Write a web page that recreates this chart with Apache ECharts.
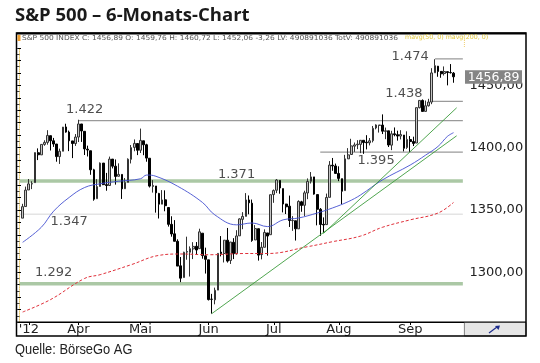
<!DOCTYPE html>
<html><head><meta charset="utf-8">
<script src="https://cdn.jsdelivr.net/npm/echarts@6/dist/echarts.min.js"></script>
<style>html,body{margin:0;padding:0;background:#fff}#c{width:540px;height:363px}</style>
</head><body><div id="c"></div>
<script>
// ---- trading days (2012) ----
const dates = [
'03-07','03-08','03-09','03-12','03-13','03-14','03-15','03-16','03-19','03-20','03-21','03-22','03-23','03-26','03-27','03-28','03-29','03-30',
'04-02','04-03','04-04','04-05','04-09','04-10','04-11','04-12','04-13','04-16','04-17','04-18','04-19','04-20','04-23','04-24','04-25','04-26','04-27','04-30',
'05-01','05-02','05-03','05-04','05-07','05-08','05-09','05-10','05-11','05-14','05-15','05-16','05-17','05-18','05-21','05-22','05-23','05-24','05-25','05-29','05-30','05-31',
'06-01','06-04','06-05','06-06','06-07','06-08','06-11','06-12','06-13','06-14','06-15','06-18','06-19','06-20','06-21','06-22','06-25','06-26','06-27','06-28','06-29',
'07-02','07-03','07-05','07-06','07-09','07-10','07-11','07-12','07-13','07-16','07-17','07-18','07-19','07-20','07-23','07-24','07-25','07-26','07-27','07-30','07-31',
'08-01','08-02','08-03','08-06','08-07','08-08','08-09','08-10','08-13','08-14','08-15','08-16','08-17','08-20','08-21','08-22','08-23','08-24','08-27','08-28','08-29','08-30','08-31',
'09-04','09-05','09-06','09-07','09-10','09-11','09-12','09-13','09-14','09-17','09-18','09-19','09-20','09-21','09-24'];

const openV = [
1343.4,1352.7,1366.0,1370.8,1371.9,1395.9,1394.2,1402.6,1404.2,1409.6,1405.5,1402.9,1392.8,1397.1,1416.6,1412.5,1405.4,1403.3,
1408.5,1419.0,1413.1,1398.8,1397.5,1382.2,1359.0,1368.8,1387.6,1370.3,1369.6,1390.8,1385.1,1377.0,1378.5,1367.0,1372.1,1390.6,1400.2,1403.3,
1397.9,1405.5,1402.3,1391.5,1368.8,1369.2,1363.2,1354.6,1358.1,1351.9,1338.4,1330.8,1324.8,1305.1,1295.7,1316.1,1316.0,1318.7,1320.8,1318.9,1331.3,1313.1,
1309.9,1278.3,1277.8,1285.6,1316.1,1315.0,1325.7,1309.4,1324.0,1314.9,1329.2,1342.4,1344.8,1358.0,1355.4,1325.9,1334.9,1314.1,1320.0,1331.5,1330.1,
1362.3,1365.8,1373.7,1367.1,1354.7,1353.0,1341.4,1341.3,1334.8,1356.5,1353.7,1363.6,1373.0,1376.5,1362.3,1350.5,1338.4,1338.2,1360.1,1385.9,1385.3,
1379.3,1375.1,1365.5,1391.0,1394.5,1401.2,1402.3,1402.6,1405.9,1404.4,1403.9,1405.6,1415.8,1417.9,1418.1,1413.1,1413.5,1402.0,1411.1,1410.4,1409.3,1410.1,1400.1,
1406.5,1404.9,1403.7,1432.1,1437.9,1429.1,1433.6,1436.6,1460.1,1465.4,1461.2,1459.5,1461.0,1460.3,1459.8];
const highV = [
1354.9,1368.7,1374.8,1373.0,1396.1,1399.4,1402.6,1405.9,1414.0,1409.6,1407.8,1402.9,1399.2,1416.6,1419.2,1413.7,1405.4,1410.9,
1422.4,1419.0,1413.1,1401.6,1397.5,1383.0,1374.7,1388.1,1387.6,1379.7,1392.8,1390.8,1390.5,1387.4,1378.5,1375.6,1391.4,1402.1,1406.6,1403.3,
1415.3,1405.5,1403.1,1391.5,1373.9,1369.2,1363.7,1365.9,1365.7,1351.9,1344.9,1341.8,1326.4,1312.2,1316.4,1328.5,1320.7,1324.1,1324.2,1334.9,1331.3,1319.7,
1309.9,1282.6,1287.6,1315.1,1329.0,1325.8,1335.5,1324.3,1327.3,1333.7,1343.3,1348.2,1363.5,1361.6,1358.3,1337.8,1334.9,1324.2,1334.4,1331.5,1362.2,
1366.4,1374.8,1373.9,1367.1,1354.9,1361.5,1345.0,1341.3,1357.7,1357.3,1365.4,1375.3,1380.4,1376.5,1362.3,1351.5,1344.0,1363.1,1389.2,1391.7,1387.2,
1385.0,1375.1,1394.2,1399.6,1407.1,1404.1,1406.0,1406.0,1405.9,1410.0,1407.7,1417.4,1418.7,1418.1,1426.7,1416.1,1413.5,1413.5,1416.2,1413.6,1414.0,1410.1,1413.1,
1409.3,1408.8,1432.1,1437.9,1438.7,1437.8,1439.2,1463.8,1471.0,1465.6,1461.5,1465.2,1461.2,1467.1,1460.7];
const lowV = [
1343.4,1352.7,1366.0,1366.7,1371.9,1390.0,1394.2,1401.5,1402.4,1397.7,1400.6,1388.7,1386.9,1397.1,1412.0,1397.2,1391.6,1401.4,
1404.5,1404.6,1394.1,1392.9,1378.2,1357.4,1359.0,1368.8,1369.9,1365.4,1369.6,1383.3,1370.3,1377.0,1358.8,1366.8,1372.1,1387.3,1397.1,1394.0,
1395.7,1393.9,1388.7,1368.0,1363.9,1347.8,1343.1,1354.6,1348.9,1336.6,1328.5,1324.8,1304.9,1292.0,1295.7,1310.0,1296.5,1310.5,1314.2,1318.9,1310.8,1298.9,
1277.3,1266.7,1274.2,1285.6,1312.7,1307.8,1307.7,1306.6,1310.5,1314.1,1329.2,1334.5,1344.8,1346.5,1324.4,1325.9,1309.3,1310.3,1320.0,1313.3,1330.1,
1355.7,1363.5,1363.0,1348.0,1346.7,1336.3,1333.2,1325.4,1334.8,1348.5,1345.1,1358.6,1371.2,1362.2,1337.6,1329.2,1331.5,1338.2,1360.1,1381.4,1379.2,
1373.1,1354.7,1365.5,1391.0,1394.5,1396.6,1398.8,1395.6,1395.0,1398.6,1401.8,1404.2,1414.7,1412.1,1410.9,1406.8,1400.5,1398.0,1409.1,1405.6,1406.6,1397.0,1399.0,
1396.6,1401.3,1403.7,1431.5,1429.0,1429.1,1433.0,1434.9,1460.1,1456.9,1456.1,1457.9,1450.0,1459.5,1452.1];
const closeV = [
1352.6,1365.9,1370.9,1371.1,1396.0,1394.3,1402.6,1404.2,1409.8,1405.5,1402.9,1392.8,1397.1,1416.5,1412.5,1405.5,1403.3,1408.5,
1419.0,1413.4,1399.0,1398.1,1382.2,1358.6,1368.7,1387.6,1370.3,1369.6,1390.8,1385.1,1376.9,1378.5,1366.9,1372.0,1390.7,1400.0,1403.4,1397.9,
1405.8,1402.3,1391.6,1369.1,1369.6,1363.7,1354.6,1358.0,1353.4,1338.4,1330.7,1324.8,1304.9,1295.2,1316.0,1316.6,1318.9,1320.7,1317.8,1332.4,1313.3,1310.3,
1278.0,1278.2,1285.5,1315.1,1315.0,1325.7,1308.9,1324.2,1314.9,1329.1,1342.8,1344.8,1358.0,1355.7,1325.5,1335.0,1313.7,1320.0,1331.9,1329.0,1362.2,
1365.5,1374.0,1367.6,1354.7,1352.5,1341.5,1341.5,1334.8,1356.8,1353.6,1363.7,1372.8,1376.5,1362.7,1350.5,1338.3,1337.9,1360.0,1386.0,1385.3,1379.3,
1375.3,1365.0,1391.0,1394.2,1401.4,1402.2,1402.8,1405.9,1404.1,1403.9,1405.5,1415.5,1418.2,1418.1,1413.2,1413.5,1402.1,1411.1,1410.4,1409.3,1410.5,1399.5,1406.6,
1404.9,1403.4,1432.1,1437.9,1429.1,1433.6,1436.6,1460.0,1465.8,1461.2,1459.3,1461.1,1460.3,1460.2,1456.9];

// moving averages: [date, value]
const ma50 = [['03-07',1324],['03-15',1336],['03-21',1349],['03-28',1360],['04-04',1368],['04-12',1371],['04-20',1373],['05-01',1375],['05-03',1378],['05-08',1377],['05-17',1369],['05-30',1356],['06-05',1346],['06-14',1338],['06-21',1339.5],['06-28',1336.6],['07-06',1342],['07-13',1343.5],['07-23',1347.5],['07-30',1351.6],['08-06',1356.6],['08-10',1362],['08-21',1374],['09-04',1386],['09-11',1394],['09-17',1401],['09-20',1409],['09-24',1412]];
const ma200 = [['03-07',1268],['03-20',1278],['04-04',1295],['04-12',1298],['04-26',1306],['05-09',1313.5],['05-18',1314.6],['06-01',1314],['06-19',1315],['06-28',1315],['07-18',1320.5],['07-30',1324.5],['08-10',1329],['08-21',1336],['09-04',1342],['09-17',1347.5],['09-24',1356]];

// trend lines
const trend1 = [['06-04',1266.7],['+1',1409.5]];
const trend2 = [['07-25',1331],['+1',1432]];

// horizontal levels
const levelNames  = ['1.422','1.474','1.438','1.395','1.371','1.347','1.292'];
const levelValues = [1421.7,1471.2,1437.2,1396.4,1373.2,1346.6,1290.8];
const levelFrom   = ['04-02','09-14','09-13','07-24','pre','pre','pre'];
const levelKind   = ['gray','gray','gray','gray','band','faint','band'];
const levelLabelAt = [['04-04',1430.5],['09-04',1473],['08-30',1443.4],['08-17',1389.6],['06-14',1378.7],['03-28',1340.6],['03-21',1300]];

const monthLabels = {'03-09':"'12",'04-02':'Apr','05-01':'Mai','06-01':'Jun','07-02':'Jul','08-01':'Aug','09-04':'Sep'};
const yTickLabels = [1300,1350,1400,1450];
const lastPrice = 1456.89;

const categories = ['pre', ...dates, '+1', '+2', '+3'];
const cx = d => categories.indexOf(d);

const bars = dates.map((d,i) => [d, openV[i], closeV[i], lowV[i], highV[i]]);

const levelStyle = {
  gray: {color:'#9a9a9a', width:1.2},
  band: {color:'#abc8a5', width:3.5},
  faint:{color:'#e4e4e4', width:1.5}
};

const series = [];
levelValues.forEach((v,i) => {
  series.push({type:'line', xAxisIndex:1, yAxisIndex:0, symbol:'none', silent:true,
    data:[[cx(levelFrom[i]), v],[cx('+3'), v]], lineStyle: levelStyle[levelKind[i]], z:1});
});
series.push({type:'candlestick', xAxisIndex:0, yAxisIndex:0, barWidth:2.2,
  dimensions:['d','open','close','low','high'],
  encode:{x:'d', y:['open','close','low','high']},
  data: bars,
  itemStyle:{color:'#c4c4c4', color0:'#000000', borderColor:'#333333', borderColor0:'#000000', borderWidth:1},
  z:3});
series.push({type:'line', xAxisIndex:1, yAxisIndex:0, symbol:'none', smooth:0.4, silent:true,
  data: ma50.map(p=>[cx(p[0]),p[1]]), lineStyle:{color:'#4450d0', width:0.9}, z:4});
series.push({type:'line', xAxisIndex:1, yAxisIndex:0, symbol:'none', smooth:0.4, silent:true,
  data: ma200.map(p=>[cx(p[0]),p[1]]), lineStyle:{color:'#e0303a', width:1, type:[3,2]}, z:4});
[trend1, trend2].forEach(t => series.push({type:'line', xAxisIndex:1, yAxisIndex:0, symbol:'none', silent:true,
  data: t.map(p=>[cx(p[0]),p[1]]), lineStyle:{color:'#3c9c3c', width:0.9}, z:4}));
series.push({type:'scatter', xAxisIndex:1, yAxisIndex:0, symbolSize:0, silent:true,
  data: levelLabelAt.map((p,i)=>({name:levelNames[i], value:[cx(p[0]),p[1]]})),
  label:{show:true, position:'inside', formatter:'{b}', fontFamily:'DejaVu Sans', fontSize:13, color:'#222'}, z:5});

const chart = echarts.init(document.getElementById('c'), null, {renderer:'canvas'});
const isMonth = (i, v) => Object.prototype.hasOwnProperty.call(monthLabels, v);
chart.setOption({
  animation:false,
  backgroundColor:'#fff',
  grid:{left:18, top:48, width:446.4, height:274},
  xAxis:[
    {type:'category', data:categories, boundaryGap:true,
     axisLine:{lineStyle:{color:'#000', width:1}},
     axisTick:{show:true, interval:isMonth, alignWithLabel:true, length:3, lineStyle:{color:'#000'}},
     axisLabel:{interval:isMonth, formatter:v=>monthLabels[v]||'', fontFamily:'DejaVu Sans', fontSize:13, color:'#222', margin:1},
     splitLine:{show:false}},
    {type:'value', min:-0.5, max:143.5, show:false}
  ],
  yAxis:[
    {type:'value', position:'right', min:1260, max:1480, interval:5,
     axisLine:{show:true, lineStyle:{color:'#f0cf70', type:'dotted', width:1}},
     axisTick:{show:true, inside:true, length:3, lineStyle:{color:'#444'}},
     axisLabel:{formatter:v=> yTickLabels.includes(v) ? v.toFixed(2).replace('.',',') : '', fontFamily:'DejaVu Sans', fontSize:13, color:'#222', margin:5},
     splitLine:{show:false}},
    {type:'value', position:'left', min:1260, max:1480, interval:10,
     axisLine:{show:false}, axisTick:{show:true, inside:true, length:3, lineStyle:{color:'#000'}},
     axisLabel:{show:false}, splitLine:{show:false}}
  ],
  series: series
});

const pY = chart.convertToPixel({yAxisIndex:0}, lastPrice);
chart.setOption({graphic:[
  {type:'text', left:15, top:6, style:{text:'S&P 500 – 6-Monats-Chart', font:'bold 18.5px "Open Sans", sans-serif', fill:'#1a1a1a'}},
  {type:'rect', shape:{x:16.5, y:33, width:509.5, height:303}, style:{fill:null, stroke:'#000', lineWidth:1.5}, z:10},
  {type:'line', shape:{x1:16.5, y1:33.5, x2:526, y2:33.5}, style:{stroke:'#000', lineWidth:2}, z:10},
  {type:'line', shape:{x1:16.5, y1:322, x2:526, y2:322}, style:{stroke:'#000', lineWidth:1}, z:10},
  {type:'line', shape:{x1:464.4, y1:40, x2:464.4, y2:48}, style:{stroke:'#f0cf70', lineWidth:1, lineDash:[1,1]}, z:10},
  {type:'rect', shape:{x:464.4, y:322.5, width:61.6, height:13.5}, style:{fill:'#e6e6e6', stroke:'#666', lineWidth:0.8}, z:9},
  {type:'polyline', shape:{points:[[489,333],[497,327]]}, style:{stroke:'#1c2c8c', lineWidth:1.2}, z:11},
  {type:'polygon', shape:{points:[[495,326],[500,325.5],[498.5,330]]}, style:{fill:'#1c2c8c'}, z:11},
  {type:'rect', shape:{x:17.5, y:35, width:3, height:6}, style:{fill:'#f0a030'}, z:11},
  {type:'text', x:22, y:34.5, scaleX:1.1, style:{text:'S&P 500 INDEX C: 1456,89 O: 1459,76 H: 1460,72 L: 1452,06 -3,26 LV: 490891036 TotV: 490891036', font:'6.8px "DejaVu Sans"', fill:'#555'}, z:11},
  {type:'text', x:405, y:34.8, style:{text:'mavg(50, 0) mavg(200, 0)', font:'6.3px "DejaVu Sans"', fill:'#e2c83a'}, z:11},
  {type:'rect', shape:{x:465, y:pY-6.5, width:57, height:13.5}, style:{fill:'#858585'}, z:12},
  {type:'text', x:493.5, y:pY+0.5, style:{text:'1456,89', font:'12.5px "DejaVu Sans"', fill:'#fff', align:'center', verticalAlign:'middle'}, z:13},
  {type:'text', x:15, y:343, scaleX:0.92, style:{text:'Quelle: BörseGo AG', font:'14px "Liberation Sans", sans-serif', fill:'#222'}}
]});
</script>
</body></html>
